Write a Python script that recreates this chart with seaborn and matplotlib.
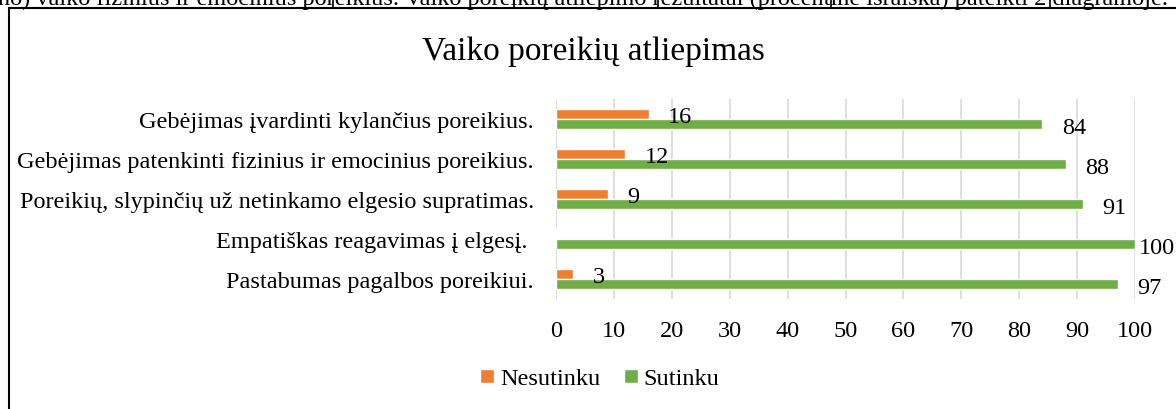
import pandas as pd
import seaborn as sns
import matplotlib as mpl
mpl.use('Agg')
import matplotlib.pyplot as plt
from matplotlib.patches import Rectangle
from matplotlib.lines import Line2D

categories = ["Gebėjimas įvardinti kylančius poreikius.",
              "Gebėjimas patenkinti fizinius ir emocinius poreikius.",
              "Poreikių, slypinčių už netinkamo elgesio supratimas.",
              "Empatiškas reagavimas į elgesį. ",
              "Pastabumas pagalbos poreikiui."]
nesutinku = [16, 12, 9, 0, 3]
sutinku = [84, 88, 91, 100, 97]
series = ["Nesutinku", "Sutinku"]
colors = ["#ED7D31", "#70AD47"]
xticks = list(range(0, 101, 10))

title = "Vaiko poreikių atliepimas"
doc_text = ("no) vaiko fizinius ir emocinius poreikius. Vaiko poreikių atliepimo "
            "rezultatai (procentine išraiška) pateikti 2 diagramoje.")

df = pd.DataFrame({
    "kategorija": categories * 2,
    "atsakymas": [series[0]] * len(categories) + [series[1]] * len(categories),
    "procentai": nesutinku + sutinku,
})

sns.set_style("white")
plt.rcParams['font.family'] = ['Liberation Serif', 'DejaVu Serif']
plt.rcParams['text.color'] = 'black'

FS = 17.5
W, H = 1176, 410
fig = plt.figure(figsize=(W / 100, H / 100), dpi=100)
ax = fig.add_axes([556 / W, 1 - 300 / H, (1135 - 556) / W, 200 / H])

sns.barplot(data=df, y="kategorija", x="procentai", hue="atsakymas",
            hue_order=series, palette=colors, order=categories,
            width=0.52, gap=0, saturation=1, ax=ax, orient="h")

ax.set_xlim(0, 100)
ax.set_ylim(len(categories) - 0.5, -0.5)
ax.set_xticks(xticks)
ax.set_xlabel("")
ax.set_ylabel("")
ax.tick_params(axis='x', labelsize=FS, length=0, pad=15, colors='black')
ax.tick_params(axis='y', labelsize=FS, length=0, pad=16, colors='black')
ax.xaxis.grid(True, color='#D9D9D9', linewidth=1.2)
ax.yaxis.grid(False)
ax.set_axisbelow(True)
for s in ax.spines.values():
    s.set_visible(False)

labels_drawn = []
for cont in ax.containers:
    for bar in cont:
        v = bar.get_width()
        if v <= 0:
            continue
        t = ax.annotate(f"{v:.0f}", xy=(v, bar.get_y() + bar.get_height() / 2),
                        xytext=(14, -2.2), textcoords='offset points',
                        ha='left', va='center', fontsize=FS, color='black',
                        annotation_clip=False)
        labels_drawn.append(t)

handles, labels = ax.get_legend_handles_labels()
ax.legend_.remove()
fig.legend(handles, labels, loc='center', bbox_to_anchor=(600 / W, 1 - 380 / H),
           ncol=2, frameon=False, fontsize=FS, handlelength=0.55,
           handleheight=0.55, handletextpad=0.25, columnspacing=1.0)

fig.text(593 / W, 1 - 52 / H, title, ha='center', va='center', fontsize=24,
         color='black')

# document text above the chart, cut by the top edge
fig.text(-2 / W, 1 - 5 / H, doc_text, ha='left', va='baseline', fontsize=FS,
         color='black')
for xv in [333, 514, 658, 831, 1050]:
    fig.add_artist(Line2D([xv / W, xv / W], [1 - 8 / H, 1.0], color='black',
                          linewidth=1.2, transform=fig.transFigure))

# chart frame
fig.add_artist(Rectangle((9 / W, -0.1), 1.2, 1.1 - 9 / H, fill=False,
                         edgecolor='black', linewidth=1.5,
                         transform=fig.transFigure))

# keep value labels inside the picture (like the 100 label)
fig.canvas.draw()
r = fig.canvas.get_renderer()
for t in labels_drawn:
    bb = t.get_window_extent(r)
    if bb.x1 > W - 1:
        dx = (bb.x1 - (W - 1)) * 72 / 100
        ox, oy = t.xyann
        t.xyann = (ox - dx, oy)

fig.savefig("out.png", dpi=100)
